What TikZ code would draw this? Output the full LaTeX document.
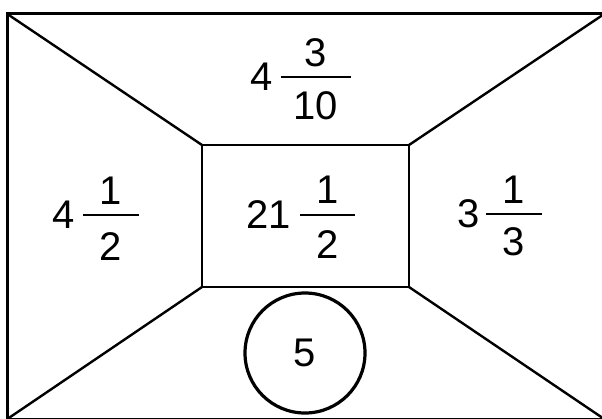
\documentclass[tikz,border=0pt]{standalone}
\usepackage{fontspec}
\setmainfont{Liberation Sans}
\usetikzlibrary{positioning}
\tikzset{
  frame/.style={rectangle, draw=black, line width=2.25pt, inner sep=0pt, outer sep=0pt},
  wall/.style={line width=1.8pt, draw=black},
  digit/.style={font=\fontsize{30}{36}\selectfont, inner sep=0pt, outer sep=0pt},
  fracbar/.style={rectangle, fill=black, inner sep=0pt, outer sep=0pt, minimum height=2pt},
}

\begin{document}
\begin{tikzpicture}[x=0.75pt, y=-0.75pt]
  \useasboundingbox (0,0) rectangle (602,418);
  % walls of the box
  \node[frame, minimum width=448pt, minimum height=304pt] (outer) at (305.75,216.5) {};
  \node[frame, line width=1.8pt, minimum width=155.25pt, minimum height=106.5pt] (room) at (305.5,216) {};
  \draw[wall] (outer.north west) -- (room.north west);
  \draw[wall] (outer.north east) -- (room.north east);
  \draw[wall] (outer.south west) -- (room.south west);
  \draw[wall] (outer.south east) -- (room.south east);
  \node[frame, circle, line width=2.4pt, minimum size=90pt, digit] (door) at (305,353) {5};
  % top
  \node[fracbar, minimum width=52.5pt] (barT) at (316,77) {};
  \node[digit, above=6.5pt of barT] (numT) {3};
  \node[digit, below=10pt of barT] (denT) {10};
  \node[digit, left=6pt of barT] (wholeT) {4};
  % left
  \node[fracbar, minimum width=42pt] (barL) at (111,215) {};
  \node[digit, above=7pt of barL] (numL) {1};
  \node[digit, below=12pt of barL] (denL) {2};
  \node[digit, left=6pt of barL] (wholeL) {4};
  % middle
  \node[fracbar, minimum width=41.25pt] (barC) at (327.5,215) {};
  \node[digit, above=8pt of barC] (numC) {1};
  \node[digit, below=11pt of barC] (denC) {2};
  \node[digit, left=7pt of barC] (wholeC) {21};
  % right
  \node[fracbar, minimum width=42pt] (barR) at (514,214) {};
  \node[digit, above=7pt of barR] (numR) {1};
  \node[digit, below=9pt of barR] (denR) {3};
  \node[digit, left=5pt of barR] (wholeR) {3};
\end{tikzpicture}
\end{document}
